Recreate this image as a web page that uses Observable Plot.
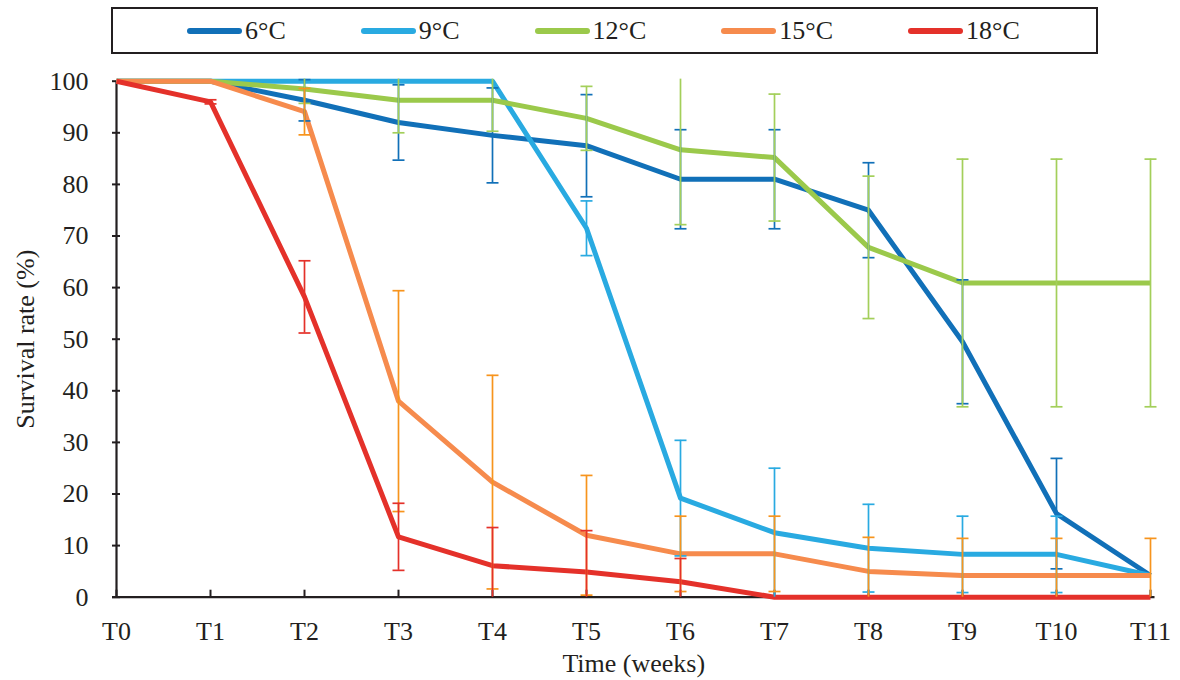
<!DOCTYPE html>
<html>
<head>
<meta charset="utf-8">
<script src="https://cdn.jsdelivr.net/npm/d3@7"></script>
<script src="https://cdn.jsdelivr.net/npm/@observablehq/plot@0.6"></script>
<style>
  html, body { margin: 0; padding: 0; background: #fff; }
  #wrap { position: relative; width: 1180px; height: 680px; font-family: "Liberation Serif", "Times New Roman", serif; }
  #legend { position: absolute; left: 111px; top: 7px; width: 987px; height: 47px; box-sizing: border-box;
            border: 2px solid #231f20; display: flex; align-items: center; padding-left: 74px; gap: 75px; }
  .item { display: flex; align-items: center; font-size: 26px; color: #231f20; }
  .swatch { width: 55px; height: 6px; border-radius: 3px; margin-right: 3px; }
  #chart { position: absolute; left: 0; top: 60px; }
</style>
</head>
<body>
<div id="wrap">
  <div id="legend"></div>
  <div id="chart"></div>
</div>
<script>
const weeks = ["T0","T1","T2","T3","T4","T5","T6","T7","T8","T9","T10","T11"];
const seriesNames = ["6°C","9°C","12°C","15°C","18°C"];
const lineColors = ["#1170b8","#29aae1","#9bc94b","#f68b4d","#e4312a"];
const errColors  = ["#1170b8","#29aae1","#a3cf5a","#f7941d","#e4312a"];
const yTicks = [0,10,20,30,40,50,60,70,80,90,100];

const mean6  = [100,100,96.3,92,89.5,87.5,81,81,75,49.5,16.2,4.2];
const err6   = [0,0,4,7.3,9.2,9.9,9.6,9.6,9.2,12,10.7,0];
const mean9  = [100,100,100,100,100,71.5,19.2,12.5,9.5,8.3,8.3,4.2];
const err9   = [0,0,0,0,0,5.3,11.2,12.5,8.5,7.4,7.4,0];
const mean12 = [100,100,98.5,96.3,96.3,92.8,86.7,85.2,67.8,60.9,60.9,60.9];
const err12  = [0,0,2.8,6.3,6,6.2,14.5,12.3,13.8,24,24,24];
const mean15 = [100,100,94.1,38,22.3,12,8.4,8.4,5,4.2,4.2,4.2];
const err15  = [0,0,4.5,21.4,20.7,11.6,7.3,7.3,6.6,7.2,7.2,7.2];
const mean18 = [100,96,58.2,11.7,6.1,4.9,3,0,0,0,0,0];
const err18  = [0,0.4,7,6.5,7.4,8,4.5,0,0,0,0,0];

const means = [mean6, mean9, mean12, mean15, mean18];
const errs  = [err6, err9, err12, err15, err18];

// plot area is clipped just above 100 (as in the original chart)
const clipTop = 100.4;
const rows = [];
seriesNames.forEach((s, si) => {
  weeks.forEach((w, wi) => {
    const v = means[si][wi], e = errs[si][wi];
    rows.push({series: s, week: w, value: v, err: e,
               lo: Math.max(0, v - e), hi: Math.min(clipTop, v + e), hiClipped: v + e > clipTop});
  });
});

// Legend
const legend = document.getElementById("legend");
seriesNames.forEach((s, i) => {
  const it = document.createElement("div");
  it.className = "item";
  const sw = document.createElement("span");
  sw.className = "swatch";
  sw.style.background = lineColors[i];
  const tx = document.createElement("span");
  tx.textContent = s;
  it.appendChild(sw); it.appendChild(tx);
  legend.appendChild(it);
});

// horizontal cap symbol for error bars
const capSymbol = {
  draw(context, size) {
    const w = Math.sqrt(size / Math.PI);
    context.moveTo(-w, 0);
    context.lineTo(w, 0);
  }
};

const axisColor = "#231f20";
const errMarks = [];
seriesNames.forEach((s, i) => {
  const d = rows.filter(r => r.series === s && r.err > 0);
  errMarks.push(Plot.ruleX(d, {x: "week", y1: "lo", y2: "hi", stroke: errColors[i], strokeWidth: 1.7}));
  errMarks.push(Plot.dot(d.filter(r => !r.hiClipped), {x: "week", y: "hi", symbol: capSymbol, r: 6, fill: "none", stroke: errColors[i], strokeWidth: 1.7}));
  errMarks.push(Plot.dot(d.filter(r => r.lo > 0), {x: "week", y: "lo", symbol: capSymbol, r: 6, fill: "none", stroke: errColors[i], strokeWidth: 1.7}));
});

const chart = Plot.plot({
  width: 1180,
  height: 620,
  marginLeft: 112,
  marginRight: 25.5,
  marginTop: 20.7,
  marginBottom: 83.3,
  style: {fontFamily: "'Liberation Serif', 'Times New Roman', serif", fontSize: "26px", color: axisColor, background: "#fff"},
  x: {type: "point", domain: weeks, padding: 0, label: null},
  y: {domain: [0, 100], label: null},
  color: {domain: seriesNames, range: lineColors},
  marks: [
    Plot.axisY({ticks: yTicks, tickSize: 8, dx: 8, tickFormat: () => "", stroke: axisColor, strokeWidth: 2, label: null}),
    Plot.axisY({ticks: yTicks, tickSize: 0, tickPadding: 24, label: null, fill: axisColor}),
    Plot.axisX({tickSize: 7, dy: -7, tickFormat: () => "", stroke: axisColor, strokeWidth: 2, label: null}),
    Plot.axisX({tickSize: 0, tickPadding: 24, label: null, fill: axisColor}),
    Plot.ruleX([weeks[0]], {stroke: axisColor, strokeWidth: 2.2}),
    Plot.ruleY([0], {stroke: axisColor, strokeWidth: 2.2}),
    Plot.line(rows, {x: "week", y: "value", z: "series", stroke: "series", strokeWidth: 5, strokeLinejoin: "round", strokeLinecap: "butt"}),
    ...errMarks,
    Plot.text(["Survival rate (%)"], {text: d => d, frameAnchor: "left", dx: -87, rotate: -90, textAnchor: "middle", lineAnchor: "middle", fill: axisColor}),
    Plot.text(["Time (weeks)"], {text: d => d, frameAnchor: "bottom", dy: 66, lineAnchor: "middle", fill: axisColor})
  ]
});
document.getElementById("chart").appendChild(chart);
</script>
</body>
</html>
